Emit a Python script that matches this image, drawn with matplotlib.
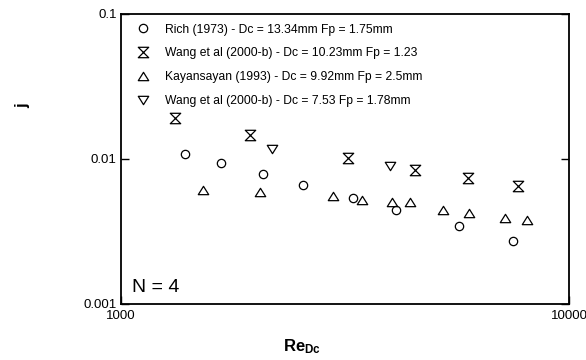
import numpy as np
import matplotlib
matplotlib.use("Agg")
import matplotlib.pyplot as plt
from matplotlib.path import Path

plt.rcParams['font.family'] = ['Liberation Sans', 'DejaVu Sans']
plt.rcParams['mathtext.fontset'] = 'custom'
plt.rcParams['mathtext.rm'] = 'Liberation Sans'
plt.rcParams['mathtext.bf'] = 'Liberation Sans:bold'

# --- datos ---
rich_re = [1390, 1672, 2075, 2544, 3290, 4105, 5673, 7485]
rich_j = [0.01083, 0.00928, 0.00787, 0.00661, 0.00537, 0.00446, 0.00342, 0.00272]

wang_a_re = [1320, 1941, 3206, 4532, 5960, 7683]
wang_a_j = [0.01913, 0.01466, 0.0102, 0.0083, 0.00739, 0.00653]

kay_re = [1522, 2043, 2973, 3451, 4033, 4416, 5243, 5992, 7195, 8060]
kay_j = [0.0061, 0.00585, 0.00557, 0.00518, 0.00502, 0.00499, 0.00444, 0.00425, 0.00389, 0.00379]

wang_b_re = [2176, 3991]
wang_b_j = [0.01167, 0.00895]

labels = ["Rich (1973) - Dc = 13.34mm Fp = 1.75mm",
          "Wang et al (2000-b) - Dc = 10.23mm Fp = 1.23",
          "Kayansayan (1993) - Dc = 9.92mm Fp = 2.5mm",
          "Wang et al (2000-b) - Dc = 7.53 Fp = 1.78mm"]

# marcadores propios
hourglass = Path([(-1, 1), (1, 1), (-1, -1), (1, -1), (-1, 1)],
                 [Path.MOVETO, Path.LINETO, Path.LINETO, Path.LINETO, Path.CLOSEPOLY])
tri_up = Path([(0, 0.8), (-1, -0.8), (1, -0.8), (0, 0.8)],
              [Path.MOVETO, Path.LINETO, Path.LINETO, Path.CLOSEPOLY])
tri_down = Path([(0, -0.8), (-1, 0.8), (1, 0.8), (0, -0.8)],
                [Path.MOVETO, Path.LINETO, Path.LINETO, Path.CLOSEPOLY])

fig = plt.figure(figsize=(5.86, 3.6), dpi=100)
ax = fig.add_axes([121/586, 1 - 303.5/360, (569 - 121)/586, (303.5 - 14)/360])

style = dict(linestyle='none', mfc='none', mec='black', mew=0.9)
ax.plot(rich_re, rich_j, marker='o', ms=6, label=labels[0], **style)
ax.plot(wang_a_re, wang_a_j, marker=hourglass, ms=7.5, label=labels[1], **style)
ax.plot(kay_re, kay_j, marker=tri_up, ms=7.5, label=labels[2], **style)
ax.plot(wang_b_re, wang_b_j, marker=tri_down, ms=7.5, label=labels[3], **style)

ax.set_xscale('log')
ax.set_yscale('log')
ax.set_xlim(1000, 10000)
ax.set_ylim(0.001, 0.1)
ax.set_xticks([1000, 10000])
ax.set_xticklabels(['1000', '10000'])
ax.set_yticks([0.001, 0.01, 0.1])
ax.set_yticklabels(['0.001', '0.01', '0.1'])
ax.minorticks_off()
ax.tick_params(axis='both', direction='in', length=6, width=1, labelsize=9.5, pad=3)
ax.tick_params(axis='y', right=True)
ax.tick_params(axis='x', pad=5)
for s in ax.spines.values():
    s.set_linewidth(1.3)

leg = ax.legend(loc='upper left', bbox_to_anchor=(137/586, 1 - 23.5/360),
                bbox_transform=fig.transFigure, frameon=False, fontsize=8.7,
                handlelength=1.0, handletextpad=1.33, labelspacing=0.98,
                borderpad=0, borderaxespad=0)

ax.text(132/586, 1 - 292/360, "N = 4", transform=fig.transFigure,
        fontsize=14, va='baseline', ha='left')

fig.text(302/586, 1 - 347/360, r'$\mathbf{Re_{Dc}}$', fontsize=12,
         ha='center', va='center')
fig.text(23/586, 1 - 106/360, 'j', fontsize=12, fontweight='bold',
         rotation=90, ha='center', va='center')

fig.savefig('out.png', dpi=100)
